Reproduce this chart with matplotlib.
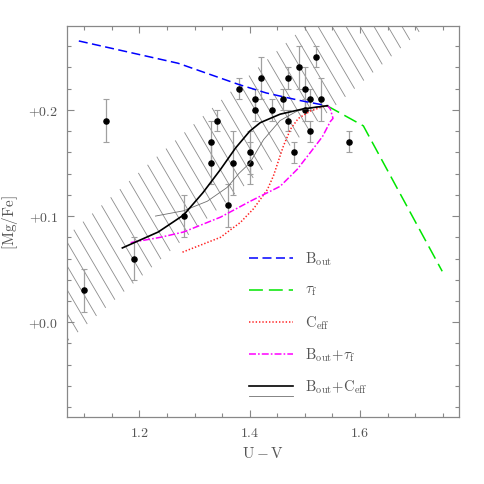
import numpy as np
import matplotlib
matplotlib.use('Agg')
import matplotlib.pyplot as plt
from matplotlib.collections import LineCollection
from matplotlib.ticker import MultipleLocator, FuncFormatter
from matplotlib.lines import Line2D

plt.rcParams['mathtext.fontset'] = 'cm'
plt.rcParams['font.family'] = ['DejaVu Serif']
plt.rcParams['lines.scale_dashes'] = False

# ---------------- data ----------------
obs_uv = [1.10, 1.14, 1.19, 1.28, 1.33, 1.33, 1.34, 1.36, 1.37, 1.38,
          1.40, 1.40, 1.41, 1.41, 1.42, 1.44, 1.46, 1.47, 1.47, 1.48,
          1.49, 1.50, 1.50, 1.51, 1.51, 1.52, 1.53, 1.58]
obs_mgfe = [0.03, 0.19, 0.06, 0.10, 0.17, 0.15, 0.19, 0.11, 0.15, 0.22,
            0.16, 0.15, 0.21, 0.20, 0.23, 0.20, 0.21, 0.23, 0.19, 0.16,
            0.24, 0.22, 0.20, 0.21, 0.18, 0.25, 0.21, 0.17]
obs_err = [0.02, 0.02, 0.02, 0.02, 0.02, 0.02, 0.01, 0.02, 0.03, 0.01,
           0.02, 0.02, 0.01, 0.01, 0.02, 0.01, 0.01, 0.01, 0.01, 0.01,
           0.02, 0.02, 0.01, 0.01, 0.01, 0.01, 0.02, 0.01]

bout_uv = [1.09, 1.27, 1.38, 1.43, 1.49, 1.54]
bout_mgfe = [0.265, 0.244, 0.224, 0.216, 0.209, 0.204]

tauf_uv = [1.54, 1.606, 1.749]
tauf_mgfe = [0.204, 0.185, 0.048]

ceff_uv = [1.278, 1.347, 1.370, 1.383, 1.407, 1.432, 1.443, 1.452, 1.461,
           1.474, 1.488, 1.510, 1.532, 1.541]
ceff_mgfe = [0.066, 0.080, 0.089, 0.094, 0.107, 0.125, 0.138, 0.152, 0.166,
             0.182, 0.192, 0.199, 0.203, 0.204]

bt_uv = [1.184, 1.238, 1.280, 1.347, 1.401, 1.455, 1.486, 1.510, 1.532,
         1.546, 1.551, 1.546, 1.541]
bt_mgfe = [0.075, 0.080, 0.085, 0.099, 0.114, 0.128, 0.144, 0.160, 0.175,
           0.189, 0.192, 0.201, 0.204]

bc_uv = [1.169, 1.234, 1.280, 1.315, 1.347, 1.374, 1.400, 1.419, 1.455,
         1.497, 1.541]
bc_mgfe = [0.070, 0.085, 0.101, 0.122, 0.144, 0.164, 0.180, 0.188, 0.196,
           0.201, 0.204]

bc2_uv = [1.229, 1.280, 1.323, 1.359, 1.380, 1.400, 1.425, 1.455, 1.486,
          1.522, 1.541]
bc2_mgfe = [0.100, 0.105, 0.114, 0.127, 0.140, 0.150, 0.172, 0.190, 0.199,
            0.203, 0.204]

# band edges (straight lines through two points)
band_uv = [1.05, 1.80]
band_lo = [-0.027, 0.316]
band_hi = [0.073, 0.416]

legend_labels = [r'$\mathrm{B_{out}}$', r'$\tau_{\mathrm{f}}$',
                 r'$\mathrm{C_{eff}}$', r'$\mathrm{B_{out}}{+}\tau_{\mathrm{f}}$',
                 r'$\mathrm{B_{out}{+}C_{eff}}$']

# ---------------- figure ----------------
fig = plt.figure(figsize=(4.85, 4.85), dpi=100)
ax = fig.add_axes([0.1375, 0.1388, 0.8095, 0.8062])
xlim = (1.068, 1.78)
ylim = (-0.089, 0.2794)
ax.set_xlim(*xlim)
ax.set_ylim(*ylim)

frame_col = '#888888'
text_col = '#555555'

# hatched band: hatch lines limited by the two band edges
b_lo = (band_lo[1] - band_lo[0]) / (band_uv[1] - band_uv[0])
b_hi = (band_hi[1] - band_hi[0]) / (band_uv[1] - band_uv[0])
hatch_slope = -0.885
hatch_x0 = 1.4977
hatch_dx = 0.02536


def meet(xt, b, x_ref, y_ref):
    # hatch line: y = ylim[1] + s (x - xt); edge: y = y_ref + b (x - x_ref)
    s = hatch_slope
    x = (y_ref - b * x_ref - ylim[1] + s * xt) / (s - b)
    return x, y_ref + b * (x - x_ref)


segs = []
for k in range(-45, 25):
    xt = hatch_x0 + k * hatch_dx
    segs.append([meet(xt, b_hi, band_uv[0], band_hi[0]),
                 meet(xt, b_lo, band_uv[0], band_lo[0])])
lc = LineCollection(segs, colors='#8c8c8c', linewidths=0.6, zorder=1)
ax.add_collection(lc)

# observations
ax.errorbar(obs_uv, obs_mgfe, yerr=obs_err, fmt='o', color='black', ms=3.7,
            ecolor='#a0a0a0', elinewidth=0.9, capsize=2.3, capthick=0.8, zorder=2)

# models
st = dict(
    bout=dict(color='#0000ff', lw=1.1, dashes=(6.5, 3.2)),
    tauf=dict(color='#00e600', lw=1.1, dashes=(10, 4.3)),
    ceff=dict(color='#ff2020', lw=1.1, dashes=(1.0, 1.4)),
    bt=dict(color='#ff00ff', lw=1.1, dashes=(5, 1.5, 1.2, 1.5)),
    bc=dict(color='black', lw=1.2),
    bc2=dict(color='#707070', lw=0.6),
)
ax.plot(bout_uv, bout_mgfe, zorder=3, **st['bout'])
ax.plot(tauf_uv, tauf_mgfe, zorder=3, **st['tauf'])
ax.plot(ceff_uv, ceff_mgfe, zorder=3, **st['ceff'])
ax.plot(bt_uv, bt_mgfe, zorder=3, **st['bt'])
ax.plot(bc2_uv, bc2_mgfe, zorder=3, **st['bc2'])
ax.plot(bc_uv, bc_mgfe, zorder=3, **st['bc'])

# legend (manual)
lx0, lx1, tx = 0.464, 0.576, 0.607
rows = [0.406, 0.324, 0.242, 0.160, 0.078]
keys = ['bout', 'tauf', 'ceff', 'bt', 'bc']
for key, yy, lab in zip(keys, rows, legend_labels):
    ax.add_line(Line2D([lx0, lx1], [yy, yy], transform=ax.transAxes, **st[key]))
    ax.text(tx, yy, lab, transform=ax.transAxes, fontsize=10.5, color=text_col,
            va='center', ha='left')
ax.add_line(Line2D([lx0, lx1], [rows[-1] - 0.026, rows[-1] - 0.026],
                   transform=ax.transAxes, **st['bc2']))

# axes styling
for sp in ax.spines.values():
    sp.set_color(frame_col)
    sp.set_linewidth(0.9)
ax.xaxis.set_major_locator(MultipleLocator(0.2))
ax.xaxis.set_minor_locator(MultipleLocator(0.05))
ax.yaxis.set_major_locator(MultipleLocator(0.1))
ax.yaxis.set_minor_locator(MultipleLocator(0.02))
ax.xaxis.set_major_formatter(FuncFormatter(lambda v, p: r'$\mathrm{%.1f}$' % v))
ax.yaxis.set_major_formatter(FuncFormatter(lambda v, p: r'$\mathrm{{+}%.1f}$' % abs(round(v, 2))))
ax.tick_params(which='both', direction='in', top=True, right=True,
               color=frame_col, labelcolor=text_col, labelsize=10)
ax.tick_params(which='major', length=5, width=0.8, pad=6)
ax.tick_params(which='minor', length=3.2, width=0.8)

ax.set_xlabel(r'$\mathrm{U-V}$', fontsize=11, color=text_col, labelpad=4)
ax.set_ylabel(r'$[\mathrm{Mg/Fe}]$', fontsize=11, color=text_col, labelpad=6)

fig.savefig('out.png', dpi=100)
